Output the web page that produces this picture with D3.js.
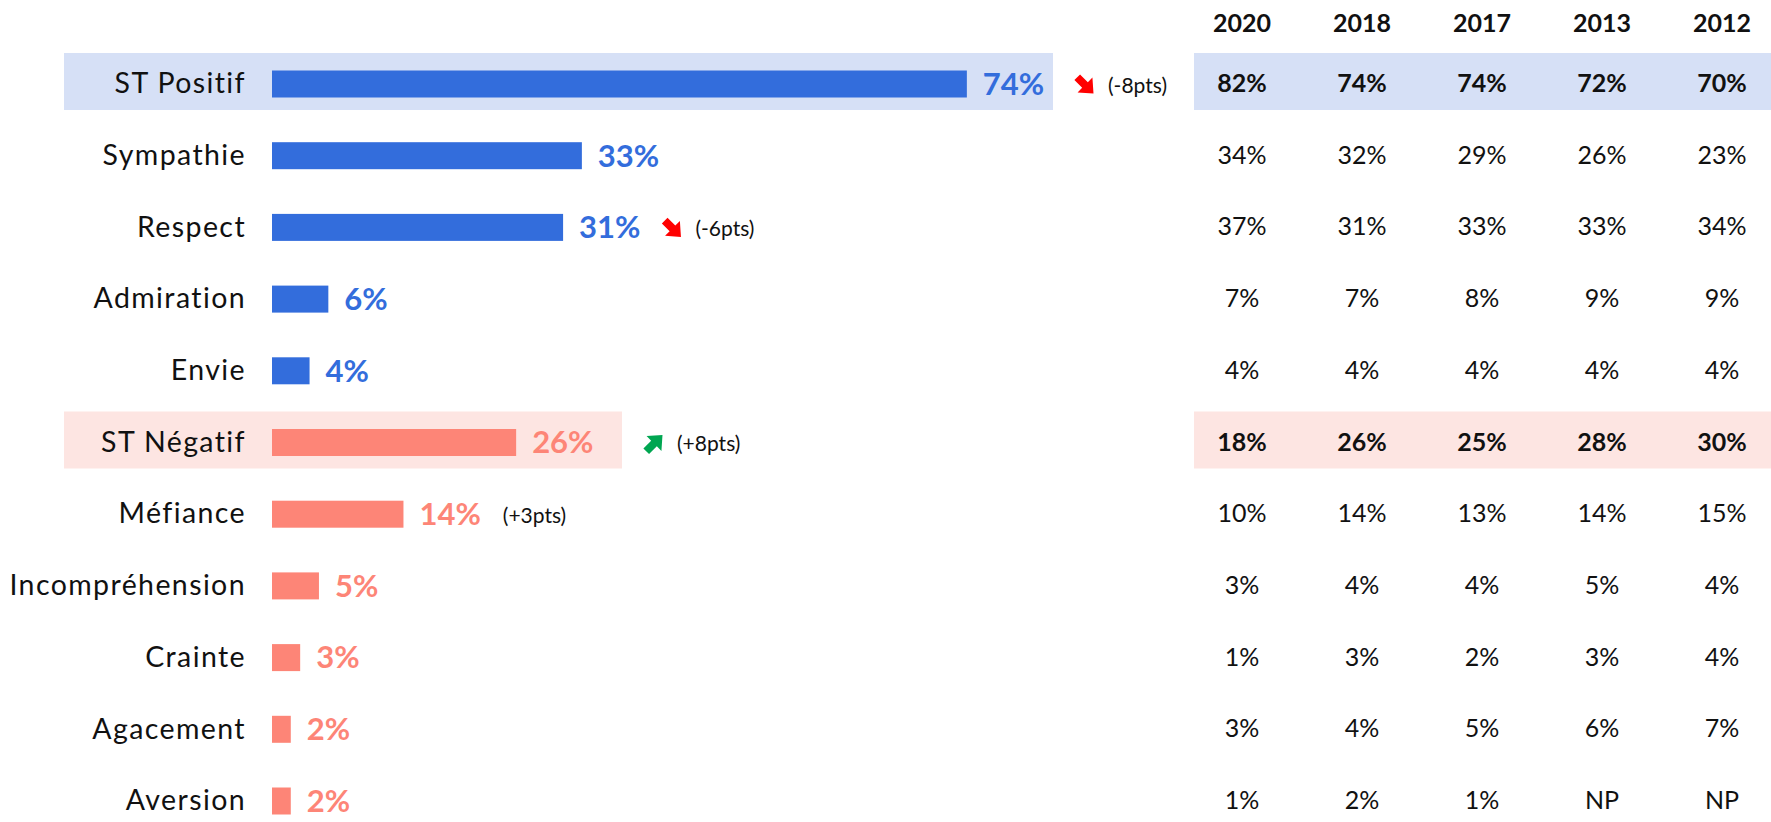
<!DOCTYPE html>
<html><head><meta charset="utf-8">
<script src="https://cdn.jsdelivr.net/npm/d3@7"></script>
<style>body{margin:0;background:#fff;} svg{display:block;font-family:Lato, "Open Sans", sans-serif;}</style>
</head><body><svg id="c" width="1771" height="822"></svg>
<script>
// ---- data ----
const categories = ["ST Positif","Sympathie","Respect","Admiration","Envie","ST Négatif","Méfiance","Incompréhension","Crainte","Agacement","Aversion"];
const current = [74, 33, 31, 6, 4, 26, 14, 5, 3, 2, 2];
const polarity = ["pos","pos","pos","pos","pos","neg","neg","neg","neg","neg","neg"];
const subtotals = ["ST Positif","ST Négatif"];
const years = ["2020","2018","2017","2013","2012"];
const hist2020 = ["82%","34%","37%","7%","4%","18%","10%","3%","1%","3%","1%"];
const hist2018 = ["74%","32%","31%","7%","4%","26%","14%","4%","3%","4%","2%"];
const hist2017 = ["74%","29%","33%","8%","4%","25%","13%","4%","2%","5%","1%"];
const hist2013 = ["72%","26%","33%","9%","4%","28%","14%","5%","3%","6%","NP"];
const hist2012 = ["70%","23%","34%","9%","4%","30%","15%","4%","4%","7%","NP"];
const history = [hist2020, hist2018, hist2017, hist2013, hist2012];
const changeCats = ["ST Positif","Respect","ST Négatif","Méfiance"];
const changeDirs = ["down","down","up",null];
const changeTexts = ["(-8pts)","(-6pts)","(+8pts)","(+3pts)"];

// ---- layout / style ----
const W = 1771, H = 822;
const colors = {pos:"#336ddc", neg:"#fd8577"};
const bandColors = {pos:"#d6e0f6", neg:"#fde5e2"};
const bandRight = {"ST Positif":1053, "ST Négatif":622};
const svg = d3.select("#c");

const x = d3.scaleLinear().domain([0,100]).range([272, 1211]);
const y = d3.scalePoint().domain(categories).range([83, 800]);
const xc = d3.scalePoint().domain(years).range([1242, 1722]);
const barH = 27;

// subtotal bands
subtotals.forEach(c => {
  const i = categories.indexOf(c);
  const p = polarity[i];
  svg.append("rect").attr("x",64).attr("y",y(c)-30).attr("width",bandRight[c]-64).attr("height",57).attr("fill",bandColors[p]);
  svg.append("rect").attr("x",1194).attr("y",y(c)-30).attr("width",W-1194).attr("height",57).attr("fill",bandColors[p]);
});

// category labels
svg.append("g").selectAll("text").data(categories).join("text")
  .attr("x",246).attr("y",d=>y(d)).attr("dy","0.36em")
  .attr("text-anchor","end").attr("font-size",28.5).attr("letter-spacing",1.4).attr("fill","#111")
  .text(d=>d);

// bars
svg.append("g").selectAll("rect").data(categories).join("rect")
  .attr("x",x(0)).attr("y",d=>y(d)-barH/2+1)
  .attr("width",(d,i)=>x(current[i])-x(0)).attr("height",barH)
  .attr("fill",(d,i)=>colors[polarity[i]]);

// value labels
const labelEnd = {};
svg.append("g").selectAll("text").data(categories).join("text")
  .attr("x",(d,i)=>x(current[i])+16).attr("y",d=>y(d)+1).attr("dy","0.35em")
  .attr("font-size",31).attr("font-weight","bold")
  .attr("fill",(d,i)=>colors[polarity[i]])
  .text((d,i)=>current[i]+"%")
  .each(function(d,i){ labelEnd[d] = x(current[i])+16+this.getComputedTextLength(); });

// change annotations
changeCats.forEach((c,k) => {
  const start = (bandRight[c] !== undefined ? bandRight[c] : labelEnd[c]) + 22;
  const cy = y(c)+2;
  let tx = start;
  if (changeDirs[k]) {
    const up = changeDirs[k] === "up";
    svg.append("path")
      .attr("d","M-11,-4 L0,-4 L0,-10.5 L12,0 L0,10.5 L0,4 L-11,4 Z")
      .attr("transform",`translate(${start+10},${cy}) rotate(${up?-45:45})`)
      .attr("fill", up ? "#00a651" : "#ff0000");
    tx = start + 33;
  }
  svg.append("text").attr("x",tx).attr("y",cy).attr("dy","0.36em")
    .attr("font-size",21).attr("fill","#111").text(changeTexts[k]);
});

// table header
svg.append("g").selectAll("text").data(years).join("text")
  .attr("x",d=>xc(d)).attr("y",23).attr("dy","0.36em")
  .attr("text-anchor","middle").attr("font-size",25).attr("font-weight","bold").attr("fill","#111")
  .text(d=>d);

// table cells
years.forEach((yr,j) => {
  svg.append("g").selectAll("text").data(categories).join("text")
    .attr("x",xc(yr)).attr("y",d=>y(d)).attr("dy","0.36em")
    .attr("text-anchor","middle").attr("font-size",25)
    .attr("font-weight",d=>subtotals.includes(d)?"bold":"normal")
    .attr("fill","#111")
    .text((d,i)=>history[j][i]);
});
</script></body></html>
